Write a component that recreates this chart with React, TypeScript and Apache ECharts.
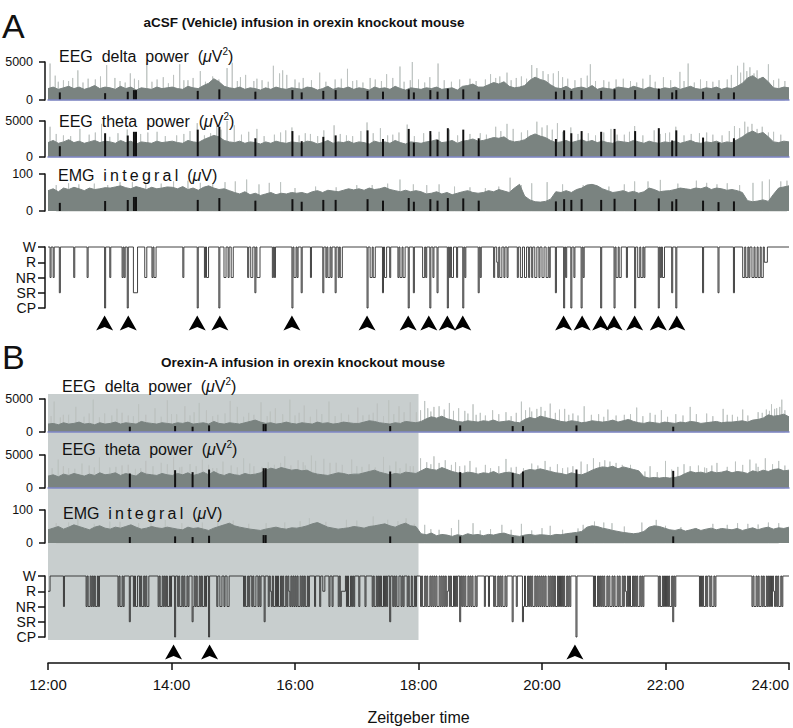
import React, { useEffect, useRef } from "react";
import * as echarts from "echarts";

const FONT = "'Liberation Sans', Arial, Helvetica, sans-serif";
const DARK = "#7a8380";
const LIGHT = "#bcc2c0";
const BLUE = "#8088c8";
const SHADE = "#c8cece";

// ---- x axis (Zeitgeber time, hours) ----
const X_MIN = 12;
const X_MAX = 24;
const X_STEP = 2;
const STATE_LABELS = ["CP", "SR", "NR", "R", "W"];
const STATE_LEVEL: Record<string, number> = { W: 4, R: 3, N: 2, S: 1, C: 0 };

// ---- Panel A : aCSF ----  body envelopes, 5-min bins 12:00 -> 24:00
const DELTA_A = [
  1500, 1700, 1400, 1600, 1800, 1500, 1700, 1400, 1600, 1900, 1500, 1700,
  1600, 1400, 1800, 1500, 1700, 1300, 1600, 1500, 1400, 1700, 1500, 1600,
  1700, 1500, 1400, 1800, 1600, 1500, 1900, 2200, 2800, 2400, 1800, 1600,
  1500, 1700, 1400, 1600, 1500, 1300, 1600, 1400, 1700, 1500, 1400, 1600,
  1500, 1400, 1700, 1600, 1300, 1500, 1800, 1400, 1600, 1500, 1700, 1400,
  1600, 1500, 1300, 1700, 1500, 1600, 1400, 1800, 1500, 1300, 1600, 1500,
  1400, 1600, 1500, 1700, 1400, 1500, 1600, 1300, 1800, 1900, 2100, 1700,
  1700, 2000, 2300, 2100, 2400, 1800, 1600, 1700, 1900, 2600, 3000, 2700,
  2500, 2000, 1600, 1500, 1800, 1400, 1600, 1700, 1500, 1900, 1400, 1600,
  1500, 1400, 1700, 1600, 1500, 1800, 1600, 1400, 1700, 1500, 1400, 1600,
  1500, 1700, 1400, 1600, 1800, 1500, 1400, 1600, 1500, 1700, 1400, 1600,
  1500, 1800, 2200, 2900, 3200, 2700, 3000, 2400, 1600, 1500, 1700, 1600,
];
const THETA_A = [
  2000, 2300, 1900, 2100, 2400, 2000, 2200, 1900, 2100, 2300, 2000, 2200,
  2100, 1900, 2300, 2000, 2200, 1800, 2100, 2000, 1900, 2200, 2000, 2100,
  2200, 2000, 1900, 2300, 2100, 2000, 2400, 2700, 3000, 2800, 2300, 2100,
  2000, 2200, 1900, 2100, 2000, 1800, 2100, 1900, 2200, 2000, 1900, 2100,
  2000, 1900, 2200, 2100, 1800, 2000, 2300, 1900, 2100, 2000, 2200, 1900,
  2100, 2000, 1800, 2200, 2000, 2100, 1900, 2300, 2000, 1800, 2100, 2000,
  1900, 2100, 2200, 2400, 2000, 2100, 2300, 1900, 2200, 2300, 2500, 2200,
  2300, 2500, 2700, 2600, 2800, 2300, 2100, 2200, 2400, 2900, 3200, 2900,
  2700, 2300, 2000, 2100, 2300, 2000, 2200, 2400, 2100, 2300, 2000, 2200,
  2000, 1900, 2200, 2100, 2000, 2300, 2100, 1900, 2200, 2000, 1900, 2100,
  2000, 2200, 1900, 2100, 2300, 2000, 1900, 2100, 2000, 2200, 1900, 2100,
  2000, 2400, 2800, 3300, 3600, 3200, 3400, 2800, 2100, 2000, 2200, 2100,
];
const EMG_A = [
  55, 60, 52, 62, 58, 64, 60, 55, 62, 58, 60, 63,
  62, 65, 68, 63, 60, 66, 62, 58, 64, 60, 62, 65,
  64, 60, 66, 58, 62, 56, 64, 68, 62, 58, 60, 55,
  50, 46, 52, 44, 48, 42, 46, 50, 44, 48, 46, 50,
  48, 50, 46, 52, 55, 50, 56, 54, 52, 56, 60, 57,
  60, 56, 62, 58, 60, 64, 58, 55, 52, 56, 52, 55,
  52, 46, 48, 52, 46, 50, 44, 48, 52, 55, 50, 48,
  50, 55, 52, 58, 54, 50, 62, 72, 40, 30, 25, 24,
  26, 32, 52, 50, 55, 50, 58, 62, 70, 72, 68, 60,
  55, 50, 52, 55, 50, 53, 48, 52, 62, 58, 52, 54,
  55, 58, 62, 60, 58, 62, 60, 65, 58, 62, 60, 56,
  58, 55, 50, 28, 25, 27, 30, 26, 45, 62, 65, 68,
];
// light spikes: [minute after 12:00, value]
const DELTA_A_SPIKES = [
  [2, 4800], [7, 3200], [15, 2600], [29, 3900], [39, 2800], [57, 4600], [65, 2900], [80, 3500],
  [96, 4900], [106, 2700], [122, 3300], [128, 4700], [136, 2600], [148, 3800], [160, 3100],
  [174, 4200], [179, 4900], [187, 3000], [203, 2800], [219, 4500], [232, 3300], [248, 2900],
  [264, 3600], [279, 2700], [291, 4100], [313, 2900], [329, 3400], [342, 4400], [352, 2600],
  [354, 5000], [371, 3000], [379, 4800], [430, 3400], [439, 3100], [446, 3600], [470, 4600],
  [475, 4200], [481, 3800], [491, 3500], [524, 3200], [527, 4700], [559, 2800], [585, 3300],
  [598, 3000], [614, 3700], [622, 4800], [670, 4500], [676, 4900], [682, 4300], [689, 3900],
  [700, 4700], [20, 2500], [88, 2600], [200, 2500], [300, 2600], [400, 2700], [455, 2900],
  [505, 2800], [540, 2600], [640, 2500], [660, 2700], [710, 2800],
];
const DELTA_A_FUZZ = [
  [10, 2400], [24, 2900], [34, 2300], [46, 2700], [51, 3100], [70, 2500], [75, 2300], [84, 2800],
  [101, 2400], [112, 3000], [117, 2200], [132, 2600], [141, 2900], [153, 2400], [166, 2700],
  [184, 2500], [192, 3300], [208, 2600], [214, 2400], [225, 3500], [228, 3900], [240, 2700],
  [244, 2300], [256, 2600], [270, 2400], [285, 2800], [296, 2500], [306, 2300], [318, 2700],
  [324, 2500], [335, 2900], [346, 2400], [360, 2700], [366, 2300], [385, 2600], [392, 2400],
  [410, 2800], [416, 2500], [425, 2700], [435, 2900], [450, 2600], [460, 3100], [465, 2800],
  [486, 3400], [496, 3800], [500, 3000], [512, 2600], [518, 2900], [532, 2500], [545, 2400],
  [552, 2700], [566, 2500], [572, 2300], [578, 2800], [590, 2400], [605, 2600], [618, 2500],
  [628, 2300], [634, 2700], [646, 2400], [652, 2600], [664, 3300], [673, 3600], [679, 3800],
  [686, 3500], [694, 3000], [705, 2600], [716, 2500],
];
const THETA_A_SPIKES = [
  [2, 4200], [31, 3900], [52, 4600], [77, 3800], [106, 3500], [145, 4700], [164, 4300],
  [174, 5000], [181, 4400], [203, 3900], [237, 4100], [268, 3700], [278, 4400], [304, 3600],
  [310, 4800], [323, 4000], [349, 4500], [365, 3300], [390, 3800], [435, 4200], [446, 4600],
  [475, 4900], [485, 4400], [495, 4700], [508, 4100], [547, 3900], [570, 4300], [589, 3700],
  [610, 4200], [640, 3400], [667, 4300], [677, 4900], [684, 4600], [694, 4200], [705, 3500],
  [15, 3000], [90, 3200], [125, 3000], [220, 3100], [255, 3200], [290, 3000], [335, 3100],
  [420, 3300], [460, 3400], [525, 3300], [560, 3100], [600, 3300], [625, 3200], [655, 3000],
];
const THETA_A_FUZZ = [
  [8, 3200], [22, 2900], [40, 3100], [46, 3400], [60, 2800], [68, 3300], [84, 3000], [97, 3400],
  [114, 2900], [132, 3200], [138, 3600], [152, 3000], [158, 3300], [168, 3800], [188, 3100],
  [195, 3500], [210, 2900], [226, 3400], [231, 3700], [244, 3000], [250, 3300], [262, 2900],
  [284, 3200], [296, 2900], [316, 3300], [330, 3000], [341, 3400], [356, 2900], [372, 3100],
  [380, 3500], [398, 3000], [410, 3200], [426, 3100], [440, 3600], [452, 3900], [466, 3700],
  [480, 4100], [490, 3800], [500, 3500], [515, 3200], [532, 3000], [540, 3400], [553, 3100],
  [565, 3500], [578, 3000], [595, 3200], [604, 3400], [618, 3000], [633, 3300], [646, 3100],
  [662, 3600], [672, 4000], [680, 4200], [689, 3900], [700, 3400], [712, 3100],
];
const EMG_A_SPIKES = [
  [20, 75], [70, 78], [136, 82], [160, 75], [193, 85], [226, 78], [300, 70], [342, 85],
  [380, 72], [449, 90], [470, 75], [560, 72], [583, 80], [630, 82], [660, 75], [701, 85], [712, 80],
];
const EMG_A_FUZZ = [
  [8, 70], [30, 72], [45, 74], [58, 70], [82, 78], [95, 76], [110, 74], [122, 80], [148, 76],
  [172, 78], [182, 80], [205, 72], [215, 76], [240, 62], [260, 66], [280, 64], [315, 70],
  [330, 74], [355, 72], [368, 70], [395, 66], [410, 64], [425, 62], [438, 66], [460, 70],
  [485, 78], [500, 72], [520, 70], [545, 66], [570, 80], [595, 84], [612, 74], [640, 76],
  [650, 72], [672, 70], [685, 76], [694, 80], [718, 82],
];
// black cataplexy / SR marks: [minute, delta, theta, emg]
const MARKS_A = [
  [11, 1000, 1500, 22], [55, 900, 3300, 27], [77, 1100, 3000, 30], [83, 1300, 3500, 38],
  [85, 1300, 3500, 38], [145, 1200, 3800, 30], [166, 1400, 4200, 35], [201, 1100, 2600, 28],
  [237, 1300, 3600, 32], [246, 1000, 2200, 25], [267, 1200, 2800, 30], [279, 1300, 3000, 30],
  [310, 1200, 3700, 32], [325, 1100, 2500, 28], [350, 1400, 3900, 35], [355, 1000, 2000, 25],
  [371, 1300, 3600, 32], [378, 1100, 2400, 28], [388, 1500, 4000, 35], [403, 1400, 3800, 34],
  [418, 1100, 2600, 28], [493, 1100, 2500, 26], [501, 1300, 3700, 32], [508, 1200, 3300, 30],
  [518, 1300, 3600, 32], [537, 1200, 3500, 30], [550, 1400, 3900, 33], [570, 1300, 3600, 32],
  [593, 1500, 4000, 34], [606, 1000, 2300, 26], [610, 1300, 3700, 32], [636, 1100, 2700, 28],
  [651, 900, 2000, 24], [666, 1000, 2600, 26],
];
// hypnogram, one string per hour, one letter per minute (W, R, N=NR, S=SR, C=CP)
const HYPNO_A = [
  "WWNWWNWWWW WSWWWWWWWW WWWWWNWWWW WWWWWWWWNW WWWWWWWWWW WWWWWCWWWW",
  "NWWWWWWWWW WWNWNWWCWW WWWSSSSWWW WWWWNNWWWW WNWNNWWWWW WWWWWWWWWW",
  "WWWWWWWWWW WNWWWWWWWW WWWWWCWWWW WWNWNNWWWW WWWWWWCWWW WNNWWNWWNN",
  "WWWWWWWWWW WWWWNWWNNW WSWNNNWWWW WWWWWWWWNW NWWWWWWWWW WWWWWWWCWN",
  "NWNWWWSWWW WWWWWNWWWW WWWWWWWSWW NWNNWNWWWS WWNWNNWWWW WWWWWWWWWW",
  "WWWWWWWWWW CWWNNWNNWW WWWWWSWNNW WWNWWWWWWW NWNNWNNWWW CWWWWSWWWW",
  "WWWWNNWNWW WCWWNWWWSW WWWWWWWWCW NWNNWWWNWW WWWCWNWWWW WWWWWWWWSW",
  "NWWWWWWWWW WWWNWWRNWN NWWNWWNWWW WWWWWWNWWN NWWNNWWNWW NWWNNWWNWW",
  "NNWWNNWNWW WWWSWWWWWW WCWNWWWWCW WNWWWWWWCW NWWWWWWWWW WWWWWWWCWW",
  "WWWWWWWWWW CWNNWNNWWW WWNWWWWWWW CWWNNWNNWN WWWWWWWWWW WWWCWNWNNW",
  "WWWWWWSWWW CWWWWWWWWW WWWWWWWWWW WWWWWWSWWW WWWWWWWWWW WSWWWWWWWW",
  "WWWWWWSWWW WWWWWNNWNN WNWWNNWNNW NNWNNWRRRW WWWWWWWWWW WWWWWWWWWW",
];
const ARROWS_A = [55, 78, 145, 167, 237, 310, 350, 370, 388, 403, 501, 519, 537, 550, 570, 593, 611];

// ---- Panel B : Orexin-A ----
const DELTA_B = [
  1200, 1300, 1100, 1400, 1200, 1300, 1500, 1200, 1300, 1100, 1400, 1200,
  1300, 1500, 1200, 1400, 1300, 1200, 1600, 1400, 1300, 1200, 1400, 1300,
  1200, 1400, 1300, 1500, 1200, 1300, 1400, 1200, 1600, 1300, 1200, 1400,
  1300, 1200, 1400, 1600, 1800, 1500, 1300, 1400, 1200, 1300, 1500, 1300,
  1200, 1400, 1300, 1200, 1500, 1300, 1400, 1200, 1300, 1500, 1400, 1300,
  1300, 1500, 1700, 1600, 1400, 1300, 1200, 1400, 1300, 1600, 1500, 1400,
  1600, 2000, 2300, 2100, 2400, 2000, 1800, 1600, 1500, 1700, 1600, 1500,
  1700, 1600, 1800, 1500, 1600, 1700, 1500, 1400, 1900, 2200, 2000, 2400,
  2200, 2000, 1800, 1600, 1500, 1700, 1600, 1400, 1500, 1700, 1600, 1500,
  1600, 1800, 1500, 1700, 1900, 1600, 1400, 1300, 1500, 1400, 1300, 1500,
  1400, 1300, 1500, 1400, 1600, 1500, 1300, 1400, 1500, 1600, 1400, 1500,
  1500, 1600, 1700, 1500, 1800, 1900, 2100, 2600, 2400, 2500, 2700, 2300,
];
const THETA_B = [
  1800, 2000, 1700, 2100, 1900, 2200, 2000, 1800, 2100, 1900, 2300, 2000,
  2100, 2300, 1900, 2200, 2000, 1800, 2400, 2100, 2000, 1900, 2200, 2000,
  1900, 2200, 2000, 2300, 1900, 2100, 2400, 2000, 2500, 2100, 1900, 2200,
  2000, 1900, 2200, 2000, 2100, 2300, 2700, 3000, 2800, 3100, 2900, 2700,
  2800, 2600, 2700, 2300, 2100, 2000, 1900, 2100, 2300, 2200, 2000, 2100,
  2100, 2300, 2500, 2700, 2400, 2200, 2000, 2200, 2100, 2400, 2300, 2200,
  2600, 3000, 2800, 2700, 3100, 2800, 2500, 2300, 2200, 2400, 2300, 2100,
  2300, 2200, 2500, 2100, 2300, 2400, 2200, 2000, 2600, 2800, 2700, 2900,
  2700, 2500, 2300, 2200, 2000, 2300, 2100, 2000, 2300, 2700, 3000, 3200,
  3100, 3300, 2900, 3200, 3000, 2800, 2600, 1700, 1500, 1600, 1500, 1600,
  1500, 1600, 1800, 2200, 2500, 2300, 2400, 2200, 2500, 2300, 2400, 2600,
  2300, 2500, 2400, 2200, 2600, 2400, 2700, 2500, 2800, 2900, 2600, 2700,
];
const EMG_B = [
  40, 45, 50, 42, 48, 55, 50, 45, 40, 48, 52, 45,
  42, 48, 45, 50, 55, 48, 42, 45, 50, 46, 44, 48,
  45, 42, 40, 48, 44, 46, 42, 38, 45, 50, 55, 60,
  52, 48, 45, 42, 40, 38, 42, 45, 48, 44, 42, 46,
  45, 48, 52, 58, 62, 55, 48, 45, 42, 44, 46, 50,
  48, 45, 50, 52, 55, 58, 52, 48, 55, 60, 52, 50,
  28, 25, 30, 22, 26, 24, 20, 25, 22, 28, 24, 26,
  22, 26, 24, 28, 30, 25, 22, 20, 24, 26, 23, 25,
  24, 22, 26, 25, 28, 30, 32, 35, 48, 52, 50, 45,
  42, 38, 35, 32, 30, 28, 30, 35, 48, 52, 50, 45,
  40, 38, 42, 36, 40, 44, 38, 42, 45, 40, 44, 42,
  40, 44, 38, 42, 46, 40, 45, 48, 42, 46, 44, 48,
];
const DELTA_B_SPIKES = [
  [6, 4600], [27, 3800], [44, 4900], [67, 3500], [88, 4200], [104, 3600], [116, 4800],
  [133, 3900], [147, 4400], [154, 3300], [177, 4700], [184, 3800], [207, 4500], [221, 3600],
  [235, 4900], [249, 4000], [261, 3400], [273, 4600], [301, 3700], [320, 4300], [331, 4800],
  [341, 3900], [352, 4500], [366, 4700], [380, 3900], [390, 4400], [399, 3600], [413, 4200],
  [432, 3300], [460, 4600], [479, 3800], [488, 4300], [502, 3500], [521, 3900], [544, 3400],
  [572, 3700], [596, 3300], [624, 3800], [656, 3500], [675, 3400], [703, 4200], [713, 4900],
  [15, 2600], [55, 2800], [78, 2500], [125, 2700], [165, 2600], [195, 2900], [228, 2700],
  [285, 2800], [312, 2600], [358, 3000], [372, 3100], [405, 3200], [420, 2900], [445, 3000],
  [470, 3100], [510, 2800], [535, 2700], [560, 2600], [585, 2900], [610, 2700], [640, 2800],
  [665, 2600], [690, 3000], [698, 3400], [708, 3600],
];
const DELTA_B_FUZZ = [
  [3, 2400], [12, 2200], [20, 2600], [35, 2300], [40, 2800], [50, 2200], [62, 2500], [72, 2900],
  [83, 2400], [95, 2600], [110, 2300], [120, 2700], [138, 2500], [142, 3000], [160, 2400],
  [172, 2800], [190, 2300], [200, 2600], [213, 2400], [216, 3100], [240, 2500], [244, 2900],
  [255, 2300], [266, 2700], [279, 2400], [292, 2600], [306, 2500], [316, 2900], [326, 2400],
  [336, 2700], [346, 3000], [362, 3300], [369, 3600], [375, 3800], [385, 3400], [394, 3200],
  [408, 2800], [416, 2600], [425, 2500], [438, 2700], [450, 2400], [455, 2900], [464, 3300],
  [468, 3700], [475, 3500], [483, 3200], [493, 2900], [497, 3400], [506, 2600], [515, 2500],
  [528, 2600], [540, 2300], [552, 2500], [566, 2700], [578, 2400], [590, 2600], [602, 2300],
  [617, 2500], [630, 2700], [646, 2400], [660, 2600], [670, 2300], [680, 2500], [694, 2900],
  [701, 3200], [706, 3500], [711, 3800], [716, 3300],
];
const THETA_B_SPIKES = [
  [10, 4300], [33, 3700], [50, 4600], [72, 3400], [95, 4100], [110, 3800], [122, 4700],
  [138, 3600], [150, 4300], [170, 4000], [190, 4500], [214, 3900], [230, 4800], [243, 4200],
  [256, 4900], [268, 4400], [280, 3800], [295, 4300], [312, 3600], [326, 4700], [338, 4000],
  [348, 3700], [362, 4500], [375, 4800], [386, 4200], [396, 3900], [410, 4100], [425, 3500],
  [445, 4400], [470, 3700], [483, 4100], [495, 3600], [518, 4000], [530, 4500], [541, 4200],
  [552, 3800], [566, 3500], [600, 4100], [618, 3600], [632, 3400], [650, 3800], [668, 4000],
  [682, 4300], [697, 4500], [710, 4100], [20, 3000], [60, 3100], [85, 2900], [130, 3200],
  [160, 3000], [200, 3300], [250, 3400], [305, 3200], [355, 3300], [405, 3400], [455, 3200],
  [505, 3100], [585, 3300], [640, 3000], [690, 3200],
];
const THETA_B_FUZZ = [
  [4, 3000], [15, 3300], [26, 2900], [40, 3400], [45, 3100], [66, 3200], [78, 3500], [90, 3000],
  [102, 3300], [116, 3600], [128, 3100], [144, 3300], [156, 3500], [164, 3000], [178, 3400],
  [184, 3100], [196, 3700], [208, 3200], [220, 3500], [226, 3800], [236, 3400], [248, 3900],
  [260, 4100], [274, 3800], [286, 3500], [300, 3300], [318, 3100], [332, 3400], [342, 3000],
  [352, 3300], [368, 3900], [372, 3600], [380, 3800], [392, 3500], [400, 3300], [416, 3100],
  [430, 3000], [438, 3300], [450, 3100], [462, 3000], [476, 3400], [488, 3200], [500, 3000],
  [510, 3300], [524, 3600], [536, 3900], [546, 4000], [558, 3500], [572, 2600], [580, 2500],
  [592, 2400], [606, 2800], [612, 3200], [624, 3300], [638, 3100], [645, 3400], [660, 3200],
  [675, 3500], [688, 3700], [704, 3600], [716, 3400],
];
const EMG_B_SPIKES = [
  [29, 75], [60, 65], [114, 70], [180, 68], [254, 75], [290, 70], [316, 80], [348, 75],
  [366, 55], [399, 70], [413, 60], [441, 55], [460, 58], [488, 52], [531, 65], [548, 60],
  [577, 62], [591, 70], [646, 58], [670, 60], [700, 62],
];
const EMG_B_FUZZ = [
  [8, 60], [20, 62], [45, 58], [70, 64], [88, 60], [100, 66], [130, 60], [150, 62], [165, 64],
  [195, 58], [212, 60], [230, 62], [245, 66], [270, 64], [300, 68], [330, 70], [340, 66],
  [356, 58], [372, 42], [380, 40], [392, 45], [420, 38], [430, 42], [450, 40], [470, 38],
  [480, 45], [500, 40], [515, 44], [520, 55], [540, 62], [560, 50], [600, 52], [615, 48],
  [630, 45], [660, 55], [680, 58], [690, 56], [710, 60],
];
const MARKS_B = [
  [79, 800, 2200, 18], [123, 900, 2700, 20], [140, 800, 2400, 18], [156, 1000, 2800, 22],
  [209, 1200, 3000, 24], [211, 1200, 3000, 24], [332, 900, 2500, 20], [400, 1000, 2400, 20],
  [451, 900, 2300, 18], [461, 900, 2500, 20], [513, 1000, 2800, 22], [607, 800, 2600, 20],
];
const HYPNO_B = [
  "RRWWWWWWWW WWWWWNWWWW WWWWWWWWWW WWWWWWWNWN NWNWNWNNWN WWWWWWWWWW",
  "WWWWWWWWNW NNWNWWWWWS WWWNWNNWWN WNNWNWNNWW WWWWWWWNWN NWNWNWNNWN",
  "WWWCWWNWNN WNWNNWNWWW SNWNWNNWNW NNWNWWCWWW WWWWNWWNNW WNWWNNWWWW",
  "WWWWWWWWWW NWNNWNWWNW NNWWNWNWWW SWWWNWRNWN NWNWNNWNWN NWNWRNWNWN",
  "WNWNNWNWNW NNWNWWWWWN WWWWNWWRRW WWWNWWNWWW WWNWNRRRRW NWNNWNWNWW",
  "WWNWWWWWNW WWWWWNWNNW NWNWNNWNWN WWSWWNWNWN NWWNWNWWWN WNNWNNWNWW",
  "WWNWNNWNWN NWNWNWNWNN WNWNWNWNRW NWNNWNWNWW SWNWNWNNWN WNWNNWNWWW",
  "WWWWNWWWNW WWWNWNNWNW NWNNWNWWWW WSWWWNWWWW WSNWNNWNWN WNNWNWNWNW",
  "NWNWNNWNWN WNWNNWNWNW NWNNWNWNWW WWWCWWWWWW WWWWWWWWWW NWNNWNWNWN",
  "WNNWNWNNWN WNNWNWNNWN WRNWNWNNWN WNWNNWNWNW WWWWWWWWWW WWWNWNNWNW",
  "NWNWNNWSWN WWWWWWWWWW WWWWWWWWWW WWWNWNWNNW NWWNWNNWNW WWWWWWWWWW",
  "WWWWWWWWWW WWWWWWWWWW WWWWNWNNWN WNNWNWNNWN WNWNWRNWNW NNWNWWWWWW",
];
const ARROWS_B = [122, 157, 512];

// ---- layout ----
const LEFT = 48;
const PLOT_W = 741;
const GRIDS = [
  { top: 62, height: 38 },
  { top: 121, height: 36 },
  { top: 174, height: 37 },
  { top: 247, height: 61 },
  { top: 399, height: 33 },
  { top: 455, height: 33 },
  { top: 510, height: 33 },
  { top: 576, height: 61 },
];

const minToHour = (m: number) => X_MIN + m / 60;

function powerSeries(g: number, body: number[], spikes: number[][], marks: number[][], col: number) {
  const n = body.length;
  const bodyData = body.map((v, i) => [X_MIN + ((X_MAX - X_MIN) * i) / (n - 1), v]);
  const spikeData = [...spikes]
    .sort((a, b) => a[0] - b[0])
    .flatMap(([m, v]) => {
      const h = minToHour(m);
      return [[h, 0], [h, v], [h, 0]];
    });
  const markData = marks.map((r) => [minToHour(r[0] + 0.5), r[col]]);
  return [
    {
      type: "line", xAxisIndex: g, yAxisIndex: g, data: spikeData, symbol: "none",
      lineStyle: { color: LIGHT, width: 0.9 }, z: 2, silent: true, clip: false,
    },
    {
      type: "line", xAxisIndex: g, yAxisIndex: g, data: bodyData, symbol: "none",
      lineStyle: { color: DARK, width: 1 }, areaStyle: { color: DARK, opacity: 1 }, z: 3, silent: true,
    },
    {
      type: "bar", xAxisIndex: g, yAxisIndex: g, data: markData, barWidth: 2,
      itemStyle: { color: "#111" }, z: 4, silent: true,
    },
  ];
}

function hypnoSeries(g: number, hours: string[], arrows: number[]) {
  const codes = hours.map((s) => s.replace(/\s/g, "").padEnd(60, "W").slice(0, 60)).join("");
  const data: number[][] = [];
  let prev = -1;
  for (let i = 0; i < codes.length; i++) {
    const s = STATE_LEVEL[codes[i]] ?? 4;
    if (s !== prev) {
      data.push([minToHour(i), s]);
      prev = s;
    }
  }
  data.push([X_MAX, prev]);
  return [
    {
      type: "line", xAxisIndex: g, yAxisIndex: g, data, step: "end", symbol: "none",
      lineStyle: { color: "#2e2e2e", width: 0.9 }, z: 3, clip: false, silent: true,
    },
    {
      type: "scatter", xAxisIndex: g, yAxisIndex: g,
      data: arrows.map((m) => [minToHour(m), 0]),
      symbol: "path://M50,0 L100,100 L50,76 L0,100 Z",
      symbolSize: [17, 15], symbolOffset: [0, 15],
      itemStyle: { color: "#000", opacity: 1 }, z: 6, clip: false, silent: true,
    },
  ];
}

function yAxisPower(g: number, max: number) {
  return {
    type: "value", gridIndex: g, min: 0, max, interval: max, offset: 3,
    axisLine: { show: true, lineStyle: { color: "#111", width: 1.5 } },
    axisTick: { show: true, length: 6, lineStyle: { color: "#111", width: 1.5 } },
    axisLabel: { fontSize: 12.5, color: "#111", fontFamily: FONT, margin: 12, formatter: (v: number) => String(v) },
    splitLine: { show: false },
  };
}
function yAxisHypno(g: number) {
  return {
    type: "value", gridIndex: g, min: 0, max: 4, interval: 1, offset: 3,
    axisLine: { show: true, lineStyle: { color: "#111", width: 1.5 } },
    axisTick: { show: true, length: 7, lineStyle: { color: "#111", width: 1.5 } },
    axisLabel: {
      fontSize: 14, lineHeight: 14, color: "#111", fontFamily: FONT, margin: 9,
      formatter: (v: number) => STATE_LABELS[v] ?? "",
    },
    splitLine: { show: false },
  };
}
function xAxisFor(g: number, kind: "blue" | "none" | "bottom") {
  const base: any = { type: "value", gridIndex: g, min: X_MIN, max: X_MAX, interval: X_STEP, splitLine: { show: false } };
  if (kind === "blue") {
    return {
      ...base, z: 10,
      axisLine: { show: true, onZero: false, lineStyle: { color: BLUE, width: 1.5 } },
      axisTick: { show: false }, axisLabel: { show: false },
    };
  }
  if (kind === "none") return { ...base, show: false };
  return {
    ...base, offset: 26,
    axisLine: { show: true, onZero: false, lineStyle: { color: "#111", width: 1.5 } },
    axisTick: { show: true, length: 7, lineStyle: { color: "#111", width: 1.5 } },
    axisLabel: {
      fontSize: 15, color: "#111", fontFamily: FONT, margin: 14, alignMaxLabel: "right",
      formatter: (v: number) => `${v}:00`,
    },
    name: "Zeitgeber time", nameLocation: "middle", nameGap: 46,
    nameTextStyle: { fontSize: 16, color: "#111", fontFamily: FONT },
  };
}

function buildOption() {
  const grid = GRIDS.map((g) => ({
    left: LEFT, width: PLOT_W, top: g.top, height: g.height, containLabel: false, outerBoundsMode: "none",
  }));
  const xAxis = [
    xAxisFor(0, "blue"), xAxisFor(1, "blue"), xAxisFor(2, "none"), xAxisFor(3, "none"),
    xAxisFor(4, "blue"), xAxisFor(5, "blue"), xAxisFor(6, "none"), xAxisFor(7, "bottom"),
  ];
  const yAxis = [
    yAxisPower(0, 5000), yAxisPower(1, 5000), yAxisPower(2, 100), yAxisHypno(3),
    yAxisPower(4, 5000), yAxisPower(5, 5000), yAxisPower(6, 100), yAxisHypno(7),
  ];
  const series = [
    ...powerSeries(0, DELTA_A, [...DELTA_A_SPIKES, ...DELTA_A_FUZZ], MARKS_A, 1),
    ...powerSeries(1, THETA_A, [...THETA_A_SPIKES, ...THETA_A_FUZZ], MARKS_A, 2),
    ...powerSeries(2, EMG_A, [...EMG_A_SPIKES, ...EMG_A_FUZZ], MARKS_A, 3),
    ...hypnoSeries(3, HYPNO_A, ARROWS_A),
    ...powerSeries(4, DELTA_B, [...DELTA_B_SPIKES, ...DELTA_B_FUZZ], MARKS_B, 1),
    ...powerSeries(5, THETA_B, [...THETA_B_SPIKES, ...THETA_B_FUZZ], MARKS_B, 2),
    ...powerSeries(6, EMG_B, [...EMG_B_SPIKES, ...EMG_B_FUZZ], MARKS_B, 3),
    ...hypnoSeries(7, HYPNO_B, ARROWS_B),
  ];
  return { animation: false, backgroundColor: "#fff", grid, xAxis, yAxis, series };
}

const RICH = {
  a: { fontSize: 16, fontFamily: FONT, lineHeight: 20, fill: "#111" },
  m: { fontSize: 16, fontFamily: FONT, fontStyle: "italic", lineHeight: 20, fill: "#111" },
  s: { fontSize: 10, fontFamily: FONT, lineHeight: 10, verticalAlign: "top", fill: "#111" },
};
const LABEL_DELTA = "{a|EEG  delta  power  (}{m|\u03bc}{a|V}{s|2}{a|)}";
const LABEL_THETA = "{a|EEG  theta  power  (}{m|\u03bc}{a|V}{s|2}{a|)}";
const LABEL_EMG = "{a|EMG  i\u2009n\u2009t\u2009e\u2009g\u2009r\u2009a\u2009l  (}{m|\u03bc}{a|V)}";

function labelText(x: number, y: number, text: string) {
  return { type: "text", x, y, z: 20, style: { text, rich: RICH, align: "left", verticalAlign: "middle" } };
}

export default function App() {
  const ref = useRef<HTMLDivElement>(null);
  useEffect(() => {
    if (!ref.current) return;
    const chart = echarts.init(ref.current, null, { renderer: "svg" });
    chart.setOption(buildOption() as any);
    const x0 = chart.convertToPixel({ xAxisIndex: 4 } as any, X_MIN) as number;
    const x1 = chart.convertToPixel({ xAxisIndex: 4 } as any, 18) as number;
    const yTop = (chart.convertToPixel({ yAxisIndex: 4 } as any, 5000) as number) - 5;
    const yBot = (chart.convertToPixel({ yAxisIndex: 7 } as any, 0) as number) + 3;
    const elements: any[] = [
      { type: "rect", z: -1, shape: { x: x0, y: yTop, width: x1 - x0, height: yBot - yTop }, style: { fill: SHADE } },
      { type: "text", x: 2, y: 26, style: { text: "A", fontSize: 34, fontFamily: FONT, fill: "#111", verticalAlign: "middle" } },
      { type: "text", x: 2, y: 357, style: { text: "B", fontSize: 34, fontFamily: FONT, fill: "#111", verticalAlign: "middle" } },
      {
        type: "text", x: 304, y: 22,
        style: { text: "aCSF (Vehicle) infusion in orexin knockout mouse", fontSize: 13.5, fontWeight: "bold", fontFamily: FONT, fill: "#111", align: "center", verticalAlign: "middle" },
      },
      {
        type: "text", x: 303, y: 362,
        style: { text: "Orexin-A infusion in orexin knockout mouse", fontSize: 13.5, fontWeight: "bold", fontFamily: FONT, fill: "#111", align: "center", verticalAlign: "middle" },
      },
      labelText(59, 56, LABEL_DELTA),
      labelText(59, 121, LABEL_THETA),
      labelText(58, 175, LABEL_EMG),
      labelText(62, 386, LABEL_DELTA),
      labelText(62, 449, LABEL_THETA),
      labelText(63, 513, LABEL_EMG),
    ];
    chart.setOption({ graphic: { elements } } as any);
    return () => chart.dispose();
  }, []);
  return <div ref={ref} style={{ position: "absolute", left: 0, top: 0, width: 793, height: 728 }} />;
}
